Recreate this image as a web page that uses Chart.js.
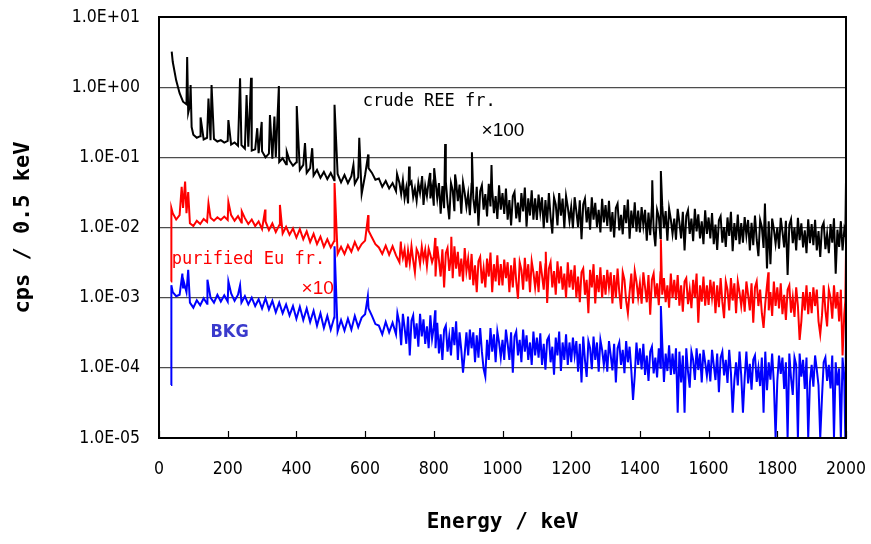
<!DOCTYPE html>
<html lang="en">
<head>
    <meta charset="UTF-8">
    <title>Gamma-ray spectra</title>
    <script src="https://cdn.jsdelivr.net/npm/chart.js"></script>
    <style>
        body { margin: 0; background: #fff; }
        #chartCanvas { display: block; }
    </style>
</head>
<body>
<canvas id="chartCanvas" width="871" height="544"></canvas>
<script>
    // energy grid (keV): 10 keV steps up to 690, 5 keV steps above
    const energy = [];
    for (let e = 40; e <= 690; e += 10) energy.push(e);
    for (let e = 700; e <= 1995; e += 5) energy.push(e);

    const xTicks = [0, 200, 400, 600, 800, 1000, 1200, 1400, 1600, 1800, 2000];
    const yTicks = [1e-5, 1e-4, 1e-3, 1e-2, 1e-1, 1, 10];
    const yTickLabels = ["1.0E-05", "1.0E-04", "1.0E-03", "1.0E-02", "1.0E-01", "1.0E+00", "1.0E+01"];

    // crude REE fraction (x100) - continuum, one value per energy step
    const crudeY = [
        2.3, 1.25, 0.82, 0.62, 0.57, 0.55,
        0.21, 0.19, 0.2, 0.18, 0.19, 0.175, 0.183, 0.168, 0.176, 0.162,
        0.172, 0.152, 0.163, 0.146, 0.15, 0.133, 0.142, 0.125, 0.13, 0.115,
        0.122, 0.1, 0.113, 0.096, 0.101, 0.086, 0.097, 0.08, 0.09, 0.076,
        0.085, 0.066, 0.078, 0.06, 0.07, 0.055, 0.066, 0.051, 0.062, 0.049,
        0.06, 0.047, 0.058, 0.044, 0.056, 0.043, 0.054, 0.042, 0.052, 0.03,
        0.056, 0.07, 0.06, 0.048, 0.05, 0.038, 0.046, 0.036, 0.043, 0.033,
        // 700 - 1995, 5 keV steps
        0.043, 0.030, 0.047, 0.026, 0.037, 0.022, 0.041, 0.045, 0.027, 0.036, 0.024, 0.043, 0.031, 0.048, 0.021, 0.039, 0.028, 0.045, 0.026, 0.038,
        0.0205, 0.045, 0.026, 0.043, 0.0157, 0.039, 0.0188, 0.045, 0.0225, 0.0131, 0.043, 0.034, 0.0171, 0.045, 0.0237, 0.041, 0.0157, 0.044, 0.031, 0.0197,
        0.030, 0.015, 0.042, 0.026, 0.016, 0.038, 0.0106, 0.033, 0.040, 0.018, 0.030, 0.0144, 0.042, 0.020, 0.035, 0.016, 0.028, 0.0132, 0.040, 0.018,
        0.031, 0.0156, 0.036, 0.0129, 0.0246, 0.0107, 0.028, 0.032, 0.0135, 0.0226, 0.0119, 0.031, 0.017, 0.037, 0.0103, 0.026, 0.0148, 0.034, 0.0129, 0.026,
        0.0128, 0.0295, 0.0162, 0.0269, 0.0098, 0.0246, 0.0117, 0.031, 0.0141, 0.0082, 0.0269, 0.0214, 0.0107, 0.031, 0.0148, 0.0258, 0.0098, 0.0281, 0.0196, 0.0123,
        0.0195, 0.0098, 0.027, 0.017, 0.0102, 0.0245, 0.0068, 0.0214, 0.0257, 0.0118, 0.0195, 0.0093, 0.027, 0.0129, 0.0225, 0.0102, 0.0178, 0.0085, 0.0257, 0.0118,
        0.0208, 0.0105, 0.024, 0.0087, 0.0166, 0.0072, 0.019, 0.0218, 0.0091, 0.0152, 0.008, 0.0208, 0.0115, 0.0251, 0.0069, 0.0174, 0.0099, 0.0229, 0.0087, 0.0174,
        0.0085, 0.0196, 0.0107, 0.0178, 0.0065, 0.0163, 0.0078, 0.0205, 0.0093, 0.0054, 0.0178, 0.0142, 0.0071, 0.0205, 0.0098, 0.0171, 0.0065, 0.0186, 0.013, 0.0081,
        0.0134, 0.0067, 0.0184, 0.0117, 0.007, 0.0167, 0.0047, 0.0146, 0.0176, 0.0081, 0.0134, 0.0064, 0.0184, 0.0088, 0.0154, 0.007, 0.0122, 0.0058, 0.0176, 0.0081,
        0.0139, 0.007, 0.016, 0.0058, 0.011, 0.0048, 0.0127, 0.0145, 0.0061, 0.0101, 0.0053, 0.0139, 0.0076, 0.0167, 0.0046, 0.0116, 0.0066, 0.0153, 0.0058, 0.0116,
        0.0061, 0.0141, 0.0077, 0.0128, 0.0047, 0.0117, 0.0056, 0.0148, 0.0067, 0.0039, 0.0128, 0.0102, 0.0051, 0.0148, 0.0026, 0.0123, 0.003, 0.0134, 0.0094, 0.0059,
        0.01, 0.005, 0.0137, 0.0087, 0.0052, 0.0125, 0.0021, 0.0109, 0.0131, 0.006, 0.01, 0.0047, 0.0137, 0.0066, 0.0115, 0.0052, 0.0091, 0.0043, 0.0131, 0.006,
        0.0112, 0.0056, 0.0129, 0.0047, 0.0089, 0.0038, 0.0102, 0.0117, 0.0049, 0.0081, 0.0043, 0.0112, 0.0061, 0.0135, 0.0022, 0.0093, 0.0053, 0.0123, 0.0047, 0.0093
    ];
    // crude REE fraction - peaks and end points
    const crudePeakE = [37, 82, 85, 92, 95, 121, 144, 153, 202, 236, 255, 268, 286, 299, 323, 336, 349, 372,
        401, 425, 446, 511, 566, 583, 609, 693, 728, 766, 789, 801, 833, 862, 911, 968, 1436, 1461, 1764, 1998, 2000];
    const crudePeakY = [3.2, 2.7, 0.43, 1.07, 0.27, 0.37, 0.69, 1.07, 0.34, 1.34, 0.77, 1.36, 0.26, 0.32, 0.4, 0.38, 1.04, 0.12,
        0.54, 0.16, 0.135, 0.56, 0.078, 0.19, 0.11, 0.058, 0.074, 0.054, 0.06, 0.07, 0.155, 0.057, 0.118, 0.078, 0.047, 0.064, 0.022, 0.008, 0.047];

    // purified Eu fraction (x10)
    const euY = [
        0.016, 0.013, 0.015, 0.019, 0.016, 0.0115,
        0.0105, 0.0125, 0.0112, 0.0132, 0.012, 0.0138, 0.0125, 0.014, 0.0128, 0.0143,
        0.0128, 0.015, 0.0125, 0.0145, 0.0118, 0.0136, 0.0112, 0.013, 0.0105, 0.0122,
        0.0095, 0.0122, 0.0092, 0.0114, 0.0086, 0.0108, 0.0082, 0.0102, 0.0079, 0.0097,
        0.0072, 0.0095, 0.0068, 0.0088, 0.0062, 0.0081, 0.0058, 0.0074, 0.0053, 0.0068,
        0.0052, 0.0064, 0.0042, 0.0053, 0.0042, 0.0056, 0.0045, 0.0062, 0.0048, 0.0058,
        0.0065, 0.009, 0.0072, 0.0058, 0.0052, 0.0042, 0.0055, 0.0041, 0.0054, 0.004,
        // 700 - 1995, 5 keV steps
        0.0032, 0.0051, 0.0037, 0.0049, 0.0027, 0.0047, 0.0031, 0.0054, 0.0034, 0.0023, 0.0049, 0.0043, 0.003, 0.0053, 0.0035, 0.0048, 0.0028, 0.005, 0.0041, 0.0032,
        0.0039, 0.002, 0.0054, 0.0034, 0.002, 0.0049, 0.0014, 0.0043, 0.0051, 0.0024, 0.0039, 0.0019, 0.0054, 0.0026, 0.0045, 0.002, 0.0036, 0.0017, 0.0051, 0.0024,
        0.0036, 0.0018, 0.0042, 0.0015, 0.0029, 0.0012, 0.0033, 0.0038, 0.0016, 0.0026, 0.0014, 0.0036, 0.002, 0.0044, 0.0012, 0.003, 0.0017, 0.004, 0.0015, 0.003,
        0.0015, 0.0035, 0.0019, 0.0032, 0.0012, 0.0029, 0.0014, 0.0037, 0.0017, 0.00097, 0.0032, 0.0025, 0.0013, 0.0037, 0.0017, 0.003, 0.0012, 0.0033, 0.0023, 0.0014,
        0.0024, 0.0012, 0.0033, 0.0021, 0.0013, 0.003, 0.00084, 0.0026, 0.0032, 0.0014, 0.0024, 0.0011, 0.0033, 0.0016, 0.0028, 0.0013, 0.0022, 0.001, 0.0032, 0.0014,
        0.0025, 0.0013, 0.0029, 0.001, 0.002, 0.00086, 0.0023, 0.0026, 0.0011, 0.0018, 0.0006, 0.0025, 0.0014, 0.003, 0.00083, 0.0021, 0.0012, 0.0027, 0.001, 0.0021,
        0.0011, 0.0025, 0.0014, 0.0023, 0.00083, 0.0021, 0.00099, 0.0026, 0.0012, 0.00069, 0.0023, 0.0018, 0.0009, 0.0006, 0.0012, 0.0022, 0.00083, 0.0024, 0.0017, 0.001,
        0.0016, 0.00082, 0.0023, 0.0014, 0.00086, 0.0021, 0.00057, 0.0018, 0.0022, 0.00099, 0.0016, 0.00078, 0.0023, 0.0011, 0.0019, 0.00086, 0.0015, 0.00072, 0.0022, 0.00099,
        0.0018, 0.00093, 0.0021, 0.00077, 0.0015, 0.00063, 0.0017, 0.0019, 0.00081, 0.0013, 0.00071, 0.0018, 0.001, 0.0022, 0.00044, 0.0015, 0.00088, 0.002, 0.00077, 0.0015,
        0.00079, 0.0018, 0.001, 0.0017, 0.0006, 0.0015, 0.00073, 0.0019, 0.00087, 0.00051, 0.0017, 0.0013, 0.00066, 0.0019, 0.00091, 0.0016, 0.0006, 0.0017, 0.0012, 0.00076,
        0.0013, 0.00063, 0.0017, 0.0011, 0.00066, 0.0016, 0.00044, 0.0014, 0.0017, 0.00076, 0.0013, 0.0006, 0.00037, 0.00083, 0.0015, 0.00066, 0.0012, 0.00055, 0.0017, 0.00076,
        0.0014, 0.0007, 0.0016, 0.00058, 0.0011, 0.00048, 0.0013, 0.0015, 0.00061, 0.001, 0.00053, 0.0014, 0.00076, 0.00025, 0.00046, 0.0012, 0.00066, 0.0015, 0.00058, 0.0012,
        0.0006, 0.0014, 0.00076, 0.0013, 0.00046, 0.0003, 0.00055, 0.0015, 0.00066, 0.00039, 0.0013, 0.001, 0.0005, 0.0015, 0.0007, 0.0012, 0.00046, 0.0013, 0.00015, 0.00058
    ];
    const euPeakE = [35, 36, 66, 76, 85, 144, 202, 241, 309, 352, 511, 609, 704, 804, 851, 1126, 1461, 1774, 1998, 2000];
    const euPeakY = [0.0017, 0.019, 0.038, 0.045, 0.032, 0.022, 0.023, 0.017, 0.018, 0.021, 0.043, 0.015, 0.0063, 0.0071, 0.0074,
        0.0045, 0.0068, 0.0023, 0.0009, 0.0048];

    // background
    const bkgY = [
        0.0012, 0.00105, 0.0011, 0.0014, 0.0012, 0.00085,
        0.00072, 0.00092, 0.00078, 0.00098, 0.00082, 0.001, 0.00085, 0.0011, 0.00088, 0.00108,
        0.00088, 0.00115, 0.0009, 0.0011, 0.00085, 0.00105, 0.0008, 0.001, 0.00076, 0.00095,
        0.0007, 0.00098, 0.00068, 0.0009, 0.00062, 0.00085, 0.0006, 0.0008, 0.00056, 0.00076,
        0.0005, 0.00074, 0.00048, 0.0007, 0.00045, 0.00065, 0.0004, 0.0006, 0.00037, 0.00055,
        0.00035, 0.00052, 0.00033, 0.00048, 0.00034, 0.0005, 0.00035, 0.00055, 0.00038, 0.00052,
        0.00058, 0.0007, 0.00055, 0.00042, 0.0004, 0.0003, 0.00045, 0.00032, 0.00044, 0.0003,
        // 700 - 1995, 5 keV steps
        0.00043, 0.00021, 0.00059, 0.00037, 0.00022, 0.00054, 0.00015, 0.00047, 0.00056, 0.00026, 0.00043, 0.0002, 0.00059, 0.00028, 0.00049, 0.00022, 0.00039, 0.00019, 0.00056, 0.00026,
        0.00038, 0.00019, 0.00044, 0.00016, 0.0003, 0.00013, 0.00035, 0.0004, 0.00017, 0.00028, 0.00015, 0.00038, 0.00021, 0.00046, 0.00013, 0.00032, 0.00018, 0.000085, 0.00016, 0.00032,
        0.00015, 0.00035, 0.00019, 0.00032, 0.00012, 0.00029, 0.00014, 0.00037, 0.00017, 0.000097, 0.000075, 0.00025, 0.00013, 0.00037, 0.00017, 0.0003, 0.00012, 0.00033, 0.00023, 0.00014,
        0.00025, 0.00013, 0.00035, 0.00022, 0.00013, 0.00032, 0.000085, 0.00028, 0.00033, 0.00015, 0.00025, 0.00012, 0.00035, 0.00017, 0.00029, 0.00013, 0.00023, 0.00011, 0.00033, 0.00015,
        0.00027, 0.00014, 0.00031, 0.00011, 0.00022, 0.000094, 0.00025, 0.00028, 0.00012, 0.0002, 0.00008, 0.00027, 0.00015, 0.00033, 0.00009, 0.00023, 0.00013, 0.0003, 0.00011, 0.00023,
        0.00012, 0.00027, 0.00015, 0.00024, 0.000088, 0.00022, 0.000062, 0.00028, 0.00013, 0.000074, 0.00024, 0.00019, 0.000096, 0.00028, 0.00013, 0.00023, 0.000088, 0.00025, 0.00018, 0.00011,
        0.00018, 0.000088, 0.00024, 0.00015, 0.000092, 0.00022, 0.000062, 0.00019, 0.00023, 0.00011, 0.00018, 0.000084, 0.00024, 0.00012, 0.0002, 0.000092, 0.000035, 0.000077, 0.00023, 0.00011,
        0.00019, 0.000095, 0.00022, 0.000079, 0.00015, 0.000065, 0.00017, 0.0002, 0.000083, 0.00014, 0.000073, 0.00019, 0.0001, 0.00023, 0.000063, 0.00016, 0.00009, 0.00021, 0.000079, 0.00016,
        0.000081, 0.00019, 0.000023, 0.00017, 0.000062, 0.00015, 0.000023, 0.00019, 0.000088, 0.000052, 0.00017, 0.00013, 0.000067, 0.00019, 0.000093, 0.00016, 0.000062, 0.00018, 0.00012, 0.000077,
        0.00013, 0.000064, 0.00018, 0.00011, 0.000067, 0.00016, 0.000045, 0.00014, 0.00017, 0.000078, 0.00013, 0.000061, 0.00018, 0.000085, 0.000023, 0.000067, 0.00012, 0.000056, 0.00017, 0.000078,
        0.000023, 0.000072, 0.00017, 0.00006, 0.000114, 0.000049, 0.00013, 0.00015, 0.000063, 0.0001, 0.000055, 0.00014, 0.000023, 0.00017, 0.000048, 0.00012, 0.000068, 0.00016, 0.00006, 0.00001,
        0.000065, 0.00015, 0.000082, 0.00014, 0.00005, 0.00012, 0.00001, 0.00016, 0.000071, 0.000041, 0.00014, 0.00011, 0.00001, 0.00016, 0.000075, 0.00013, 0.00005, 0.00014, 0.00001, 0.000062,
        0.00011, 0.000054, 0.00015, 0.000094, 0.000056, 0.00001, 0.000037, 0.00012, 0.00014, 0.000065, 0.00011, 0.000051, 0.00015, 0.00001, 0.00012, 0.000056, 0.000098, 0.00001, 0.00014, 0.000065
    ];
    const bkgPeakE = [35, 36, 68, 72, 85, 141, 202, 236, 511, 608, 694, 804, 1461, 1998, 2000];
    const bkgPeakY = [0.000057, 0.0015, 0.0022, 0.0017, 0.0025, 0.0018, 0.0017, 0.0015, 0.0054, 0.00105, 0.0006, 0.00066,
        0.00076, 0.00001, 0.00051];

    function buildSeries(values, peakE, peakY) {
        let pts = energy.map((e, i) => ({ x: e, y: values[i] }));
        peakE.forEach((e, i) => pts.push({ x: e, y: peakY[i] }));
        pts.sort((a, b) => a.x - b.x);
        return pts;
    }

    const monoFont = "'DejaVu Sans Mono', 'Liberation Mono', monospace";
    const narrowFont = "'Liberation Sans Narrow', 'DejaVu Sans Condensed', Arial, sans-serif";

    const framePlugin = {
        id: "frame",
        afterDatasetsDraw(chart) {
            const ctx = chart.ctx;
            const a = chart.chartArea;
            const xs = chart.scales.x;
            const ys = chart.scales.y;
            ctx.save();
            ctx.strokeStyle = "#000";
            ctx.lineWidth = 2;
            ctx.strokeRect(a.left, a.top, a.right - a.left, a.bottom - a.top);
            ctx.lineWidth = 1.2;
            xTicks.forEach(v => {
                let px = Math.round(xs.getPixelForValue(v)) + 0.5;
                ctx.beginPath();
                ctx.moveTo(px, a.bottom);
                ctx.lineTo(px, a.bottom - 7);
                ctx.stroke();
            });

            // labels on the plot, anchored at (energy, cps)
            const notes = [
                { t: "crude REE fr.", e: 593, v: 0.62, c: "#000", f: "17px " + monoFont },
                { t: "\u00d7100", e: 939, v: 0.237, c: "#000", f: "19px Arial, 'Liberation Sans', sans-serif" },
                { t: "purified Eu fr.", e: 37, v: 0.00344, c: "#ff0000", f: "17px " + monoFont },
                { t: "\u00d710", e: 415, v: 0.00132, c: "#ff0000", f: "19px Arial, 'Liberation Sans', sans-serif" },
                { t: "BKG", e: 150, v: 0.000317, c: "#3a3acc", f: "bold 18px " + narrowFont }
            ];
            ctx.textAlign = "left";
            ctx.textBaseline = "middle";
            notes.forEach(n => {
                ctx.fillStyle = n.c;
                ctx.font = n.f;
                ctx.fillText(n.t, xs.getPixelForValue(n.e), ys.getPixelForValue(n.v));
            });
            ctx.restore();
        }
    };

    let ctx = document.getElementById("chartCanvas").getContext("2d");
    let chart = new Chart(ctx, {
        type: "line",
        data: {
            datasets: [
                { label: "crude REE fr.", data: buildSeries(crudeY, crudePeakE, crudePeakY), borderColor: "#000000", order: 3 },
                { label: "purified Eu fr.", data: buildSeries(euY, euPeakE, euPeakY), borderColor: "#ff0000", order: 2 },
                { label: "BKG", data: buildSeries(bkgY, bkgPeakE, bkgPeakY), borderColor: "#0000ff", order: 1 }
            ]
        },
        options: {
            responsive: false,
            animation: false,
            devicePixelRatio: 1,
            parsing: false,
            elements: {
                line: { borderWidth: 2, tension: 0, fill: false },
                point: { radius: 0 }
            },
            layout: { padding: { top: 17, right: 25, left: 0, bottom: 0 } },
            plugins: { legend: { display: false }, tooltip: { enabled: false } },
            scales: {
                x: {
                    type: "linear",
                    min: 0,
                    max: 2000,
                    afterBuildTicks: s => { s.ticks = xTicks.map(v => ({ value: v })); },
                    afterFit: s => { s.height = 106; s.paddingLeft = 0; s.paddingRight = 0; },
                    grid: { display: false, drawTicks: false },
                    border: { display: false },
                    ticks: {
                        color: "#000",
                        padding: 21,
                        maxRotation: 0,
                        font: { family: narrowFont, size: 17.5 },
                        callback: v => String(v)
                    },
                    title: {
                        display: true,
                        text: "Energy / keV",
                        color: "#000",
                        padding: { top: 0, bottom: 9 },
                        font: { family: monoFont, size: 21, weight: "bold" }
                    }
                },
                y: {
                    type: "logarithmic",
                    min: 1e-5,
                    max: 10,
                    afterBuildTicks: s => { s.ticks = yTicks.map(v => ({ value: v })); },
                    afterFit: s => { s.width = 159; s.paddingTop = 0; s.paddingBottom = 0; },
                    grid: { color: "#4d4d4d", lineWidth: 1.2, drawTicks: false },
                    border: { display: false },
                    ticks: {
                        color: "#000",
                        padding: 19,
                        font: { family: narrowFont, size: 17.5 },
                        callback: v => yTickLabels[yTicks.indexOf(v)] || ""
                    },
                    title: {
                        display: true,
                        text: "cps / 0.5 keV",
                        color: "#000",
                        padding: { top: 10, bottom: 0 },
                        font: { family: monoFont, size: 22, weight: "bold" }
                    }
                }
            }
        },
        plugins: [framePlugin]
    });
</script>
</body>
</html>
